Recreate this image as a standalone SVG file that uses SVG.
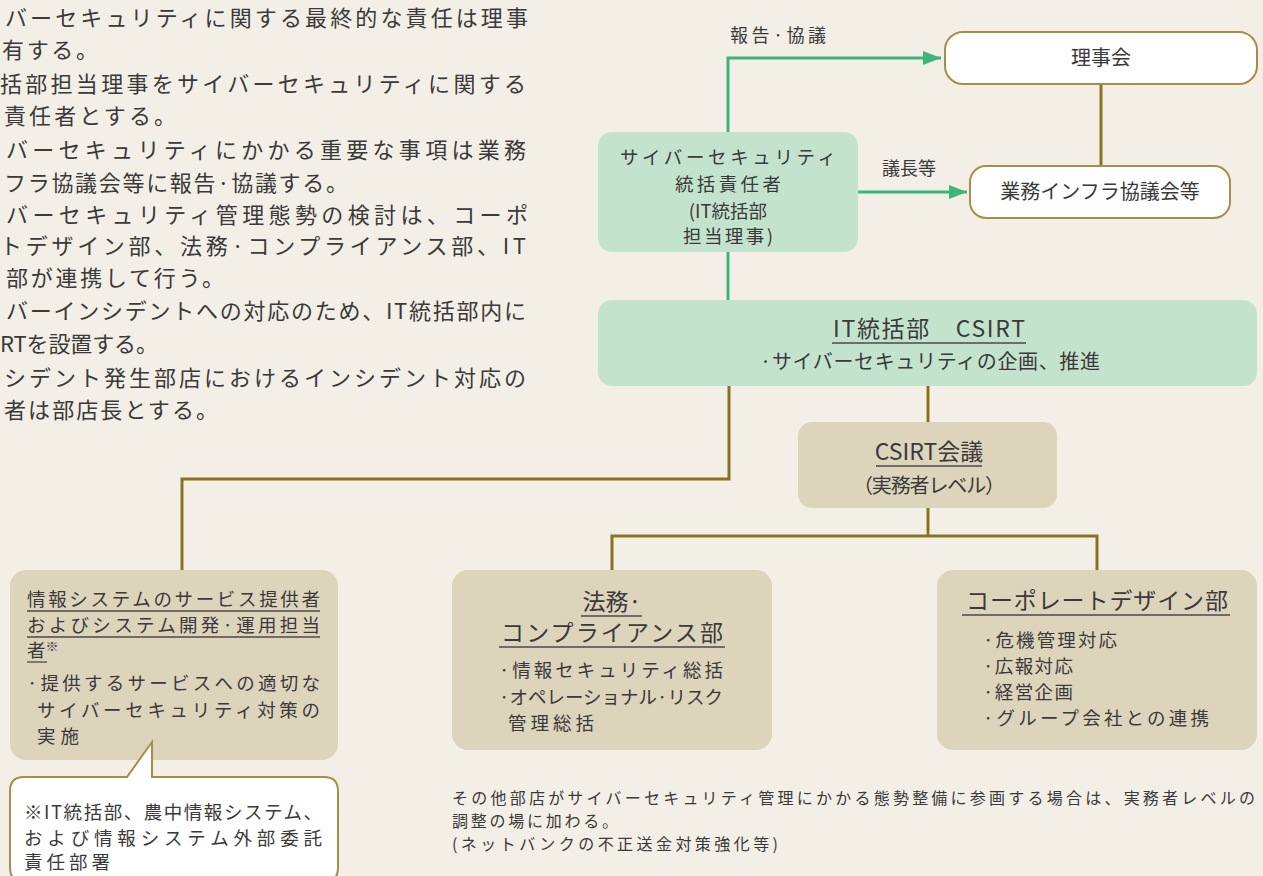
<svg xmlns="http://www.w3.org/2000/svg" width="1263" height="876" viewBox="0 0 1263 876">
<defs>
<style>
text{font-family:"Noto Sans CJK JP","Noto Sans CJK SC",sans-serif;fill:#3a3a3a}
.lt{font-size:22px}
.n{font-size:20px}
.i{font-size:18.5px}
.t{font-size:23px}
.s{font-size:18.5px}
.lab{font-size:18px}
.note{font-size:16px}
.c{text-anchor:middle}
.wbox{fill:#ffffff;stroke:#a68e48;stroke-width:2}
.gbox{fill:#c3e3cd}
.tbox{fill:#ddd4bc}
.ul{stroke:#4a4a4a;stroke-width:1.3}
.ol{fill:none;stroke:#86741f;stroke-width:3}
.gl{fill:none;stroke:#3cb57a;stroke-width:3}
</style>
<marker id="ga" markerWidth="18" markerHeight="14" refX="18" refY="7" orient="auto" markerUnits="userSpaceOnUse">
<path d="M0,0 L18,7 L0,14 Z" fill="#3cb57a"/>
</marker>
</defs>
<rect x="0" y="0" width="1263" height="876" fill="#f3efe6"/>

<g id="intro" class="lt">
<text x="5" y="26" textLength="523" lengthAdjust="spacing">バーセキュリティに関する最終的な責任は理事</text>
<text x="2" y="58" textLength="96" lengthAdjust="spacing">有する。</text>
<text x="0" y="92" textLength="526" lengthAdjust="spacing">括部担当理事をサイバーセキュリティに関する</text>
<text x="4" y="124" textLength="172" lengthAdjust="spacing">責任者とする。</text>
<text x="6" y="158" textLength="520" lengthAdjust="spacing">バーセキュリティにかかる重要な事項は業務</text>
<text x="4" y="191" textLength="344" lengthAdjust="spacing">フラ協議会等に報告·協議する。</text>
<text x="6" y="223" textLength="522" lengthAdjust="spacing">バーセキュリティ管理態勢の検討は、コーポ</text>
<text x="0" y="254" textLength="526" lengthAdjust="spacing">トデザイン部、法務·コンプライアンス部、IT</text>
<text x="6" y="286" textLength="218" lengthAdjust="spacing">部が連携して行う。</text>
<text x="6" y="319" textLength="520" lengthAdjust="spacing">バーインシデントへの対応のため、IT統括部内に</text>
<text x="0" y="352" textLength="158" lengthAdjust="spacing">RTを設置する。</text>
<text x="4" y="386" textLength="522" lengthAdjust="spacing">シデント発生部店におけるインシデント対応の</text>
<text x="4" y="418" textLength="214" lengthAdjust="spacing">者は部店長とする。</text>
</g>

<g id="connectors">
<path class="ol" d="M1101,84 V166"/>
<path class="gl" d="M728,132 V58 H941" marker-end="url(#ga)"/>
<path class="gl" d="M858,192 H967" marker-end="url(#ga)"/>
<path class="gl" d="M728,252 V300"/>
<path class="ol" d="M729,386 V479 H182 V570"/>
<path class="ol" d="M928,386 V422"/>
<path class="ol" d="M928,508 V536"/>
<path class="ol" d="M612,570 V536 H1097 V570"/>
<text class="lab" x="730" y="42" textLength="96" lengthAdjust="spacing">報告·協議</text>
<text class="lab" x="882" y="175" font-size="20">議長等</text>
</g>

<g id="board">
<rect class="wbox" x="945" y="32" width="312" height="52" rx="18"/>
<text class="n c" x="1101" y="65">理事会</text>
</g>

<g id="infra-council">
<rect class="wbox" x="970" y="166" width="260" height="52" rx="16"/>
<text class="n c" x="1100" y="199">業務インフラ協議会等</text>
</g>

<g id="ciso">
<rect class="gbox" x="598" y="132" width="260" height="120" rx="14"/>
<text class="s c" x="728" y="164" textLength="216" lengthAdjust="spacing">サイバーセキュリティ</text>
<text class="s c" x="728" y="191" textLength="106" lengthAdjust="spacing">統括責任者</text>
<text class="s c" x="728" y="218">(IT統括部</text>
<text class="s c" x="728" y="243" textLength="90" lengthAdjust="spacing">担当理事)</text>
</g>

<g id="csirt">
<rect class="gbox" x="598" y="300" width="659" height="86" rx="14"/>
<text class="t c" x="929" y="337" textLength="192" lengthAdjust="spacing">IT統括部　CSIRT</text>
<line class="ul" x1="832" y1="343" x2="1026" y2="343"/>
<text class="n c" x="930" y="369" textLength="340" lengthAdjust="spacing">·サイバーセキュリティの企画、推進</text>
</g>

<g id="csirt-meeting">
<rect class="tbox" x="798" y="422" width="259" height="86" rx="14"/>
<text class="t c" x="929" y="460">CSIRT会議</text>
<line class="ul" x1="876" y1="466" x2="982" y2="466"/>
<text class="n c" x="929" y="493" textLength="152" lengthAdjust="spacing">（実務者レベル）</text>
</g>

<g id="legal">
<rect class="tbox" x="452" y="570" width="320" height="180" rx="16"/>
<text class="t c" x="612" y="610">法務·</text>
<line class="ul" x1="581" y1="616" x2="642" y2="616"/>
<text class="t c" x="612" y="641" textLength="222" lengthAdjust="spacing">コンプライアンス部</text>
<line class="ul" x1="499" y1="647" x2="725" y2="647"/>
<text class="i" x="499" y="677" textLength="224" lengthAdjust="spacing">·情報セキュリティ総括</text>
<text class="i" x="499" y="704" textLength="224" lengthAdjust="spacing">·オペレーショナル·リスク</text>
<text class="i" x="508" y="730" textLength="86" lengthAdjust="spacing">管理総括</text>
</g>

<g id="corporate-design">
<rect class="tbox" x="937" y="570" width="320" height="180" rx="16"/>
<text class="t c" x="1097" y="609" textLength="262" lengthAdjust="spacing">コーポレートデザイン部</text>
<line class="ul" x1="962" y1="615" x2="1230" y2="615"/>
<text class="i" x="983" y="647" textLength="134" lengthAdjust="spacing">·危機管理対応</text>
<text class="i" x="983" y="673" textLength="90" lengthAdjust="spacing">·広報対応</text>
<text class="i" x="983" y="699" textLength="90" lengthAdjust="spacing">·経営企画</text>
<text class="i" x="983" y="725" textLength="226" lengthAdjust="spacing">·グループ会社との連携</text>
</g>

<g id="system-providers">
<rect class="tbox" x="10" y="570" width="328" height="190" rx="16"/>
<text class="s" x="27" y="606" textLength="293" lengthAdjust="spacing">情報システムのサービス提供者</text>
<line class="ul" x1="27" y1="611" x2="320" y2="611"/>
<text class="s" x="27" y="632" textLength="293" lengthAdjust="spacing">およびシステム開発·運用担当</text>
<line class="ul" x1="27" y1="637" x2="320" y2="637"/>
<text class="s" x="27" y="657">者<tspan font-size="13" dy="-6">※</tspan></text>
<line class="ul" x1="27" y1="662" x2="47" y2="662"/>
<text class="s" x="27" y="690" textLength="293" lengthAdjust="spacing">·提供するサービスへの適切な</text>
<text class="s" x="37" y="717" textLength="283" lengthAdjust="spacing">サイバーセキュリティ対策の</text>
<text class="s" x="37" y="743" textLength="42" lengthAdjust="spacing">実施</text>
</g>

<g id="footnote-callout">
<path class="wbox" d="M24,777 H127 L152,742 V777 H324 Q338,777 338,791 V868 Q338,882 324,882 H24 Q10,882 10,868 V791 Q10,777 24,777 Z"/>
<text class="s" x="24" y="819" textLength="298" lengthAdjust="spacing">※IT統括部、農中情報システム、</text>
<text class="s" x="24" y="845" textLength="298" lengthAdjust="spacing">および情報システム外部委託</text>
<text class="s" x="24" y="869" textLength="86" lengthAdjust="spacing">責任部署</text>
</g>

<g id="bottom-note" class="note">
<text x="452" y="804" textLength="803" lengthAdjust="spacing">その他部店がサイバーセキュリティ管理にかかる態勢整備に参画する場合は、実務者レベルの</text>
<text x="452" y="827" textLength="166" lengthAdjust="spacing">調整の場に加わる。</text>
<text x="452" y="850" textLength="326" lengthAdjust="spacing">(ネットバンクの不正送金対策強化等)</text>
</g>
</svg>
